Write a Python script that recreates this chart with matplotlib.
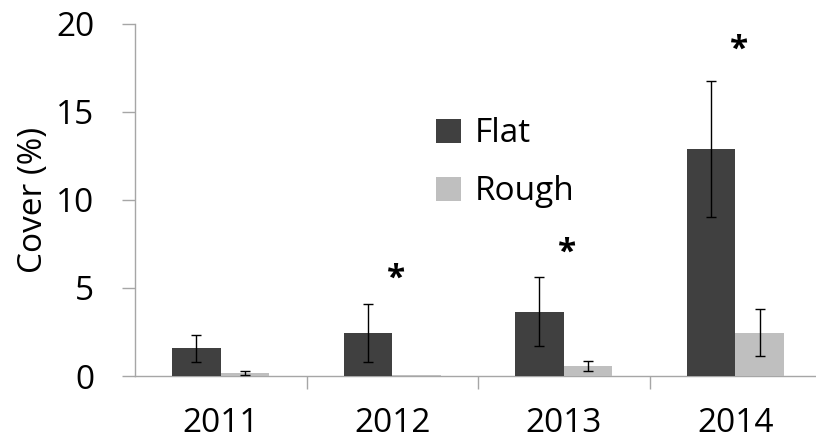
import matplotlib
matplotlib.use("Agg")
import matplotlib.pyplot as plt
import numpy as np

plt.rcParams['font.family'] = ['Open Sans', 'DejaVu Sans']

years = ["2011", "2012", "2013", "2014"]
flat = [1.57, 2.45, 3.65, 12.9]
flat_err = [0.75, 1.65, 1.95, 3.86]
rough = [0.15, 0.03, 0.58, 2.46]
rough_err = [0.12, 0.0, 0.3, 1.35]
star_years = ["2012", "2013", "2014"]
star_heights = [5.5, 7.0, 18.5]

fig = plt.figure(figsize=(8.16, 4.44), dpi=100)
ax = fig.add_axes([135 / 816, 1 - 376 / 444, 686 / 816, 352 / 444])

x = np.arange(len(years))
w = 0.283
dark = "#404040"
light = "#bfbfbf"
axis_gray = "#a6a6a6"

ax.bar(x - w / 2, flat, width=w, color=dark, label="Flat", zorder=2)
ax.bar(x + w / 2, rough, width=w, color=light, label="Rough", zorder=2)

err_kw = dict(fmt="none", ecolor="black", elinewidth=1.0, capsize=3.6, capthick=1.0, zorder=3)
ax.errorbar(x - w / 2, flat, yerr=flat_err, **err_kw)
re = np.array(rough_err)
mask = re > 0
ax.errorbar((x + w / 2)[mask], np.array(rough)[mask], yerr=re[mask], **err_kw)

for yr, h in zip(star_years, star_heights):
    i = years.index(yr)
    ax.text(x[i] + 0.02, h, "*", ha="center", va="center", fontsize=24,
            fontweight="bold", color="black")

ax.set_xlim(-0.5, 3.5)
ax.set_ylim(0, 20)
ax.set_yticks([0, 5, 10, 15, 20])
ax.set_xticks(x)
ax.set_xticklabels(years)
ax.set_xticks(np.arange(0.5, 3.5, 1.0), minor=True)

ax.tick_params(axis="x", which="major", length=0, pad=22, labelsize=24)
ax.tick_params(axis="x", which="minor", length=9.4, width=1.0, color=axis_gray, direction="out")
ax.tick_params(axis="y", length=9.4, width=1.0, color=axis_gray, pad=20, labelsize=24)

for s in ["top", "right"]:
    ax.spines[s].set_visible(False)
for s in ["left", "bottom"]:
    ax.spines[s].set_color(axis_gray)
    ax.spines[s].set_linewidth(1.0)
    ax.spines[s].set_zorder(1)

ax.set_ylabel("Cover (%)", fontsize=24, labelpad=4)

leg = ax.legend(loc="upper left", bbox_to_anchor=(0.395, 0.82), frameon=False,
                fontsize=24, handlelength=0.75, handleheight=0.75, handletextpad=0.4,
                labelspacing=0.75)

fig.savefig("out.png", dpi=100)
